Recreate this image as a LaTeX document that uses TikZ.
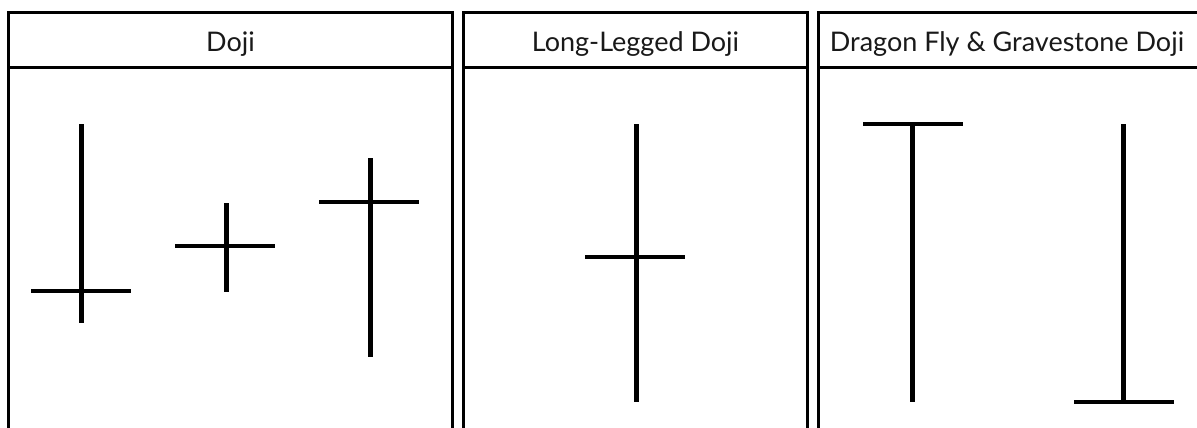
\documentclass[tikz,border=0pt]{standalone}
\usepackage{fontspec}
\setmainfont{Lato}
\begin{document}
\begin{tikzpicture}[x=1pt,y=-1pt,
  frame/.style={line width=3pt,line cap=rect},
  wick/.style={line width=5pt},
  bar/.style={line width=3.6pt},
  title/.style={font=\fontsize{27}{32}\selectfont,text=black!90,inner sep=0pt,anchor=base}]
\useasboundingbox (0,0) rectangle (1197,428);
\clip (0,0) rectangle (1197,428);
\fill[white] (0,0) rectangle (1197,428);
% panels
\draw[frame] (8.5,440) -- (8.5,12.5) -- (452.5,12.5) -- (452.5,440);
\draw[frame] (8.5,68) -- (452.5,68);
\draw[frame] (463.5,440) -- (463.5,12.5) -- (807.5,12.5) -- (807.5,440);
\draw[frame] (463.5,68) -- (807.5,68);
\draw[frame] (818.5,440) -- (818.5,12.5) -- (1210,12.5);
\draw[frame] (818.5,68) -- (1210,68);
% titles
\node[title] (t1) at (230.5,51.5) {Doji};
\node[title] (t2) at (635.5,51.5) {Long-Legged Doji};
\node[title] (t3) at (1007,51.5) {Dragon Fly \& Gravestone Doji};
% panel 1 candles
\draw[wick] (81,124) -- (81,323);
\draw[bar] (31,291) -- (131,291);
\draw[wick] (226,203) -- (226,292);
\draw[bar] (175,246) -- (275,246);
\draw[wick] (370,158) -- (370,357);
\draw[bar] (319,202) -- (419,202);
% panel 2
\draw[wick] (636,124) -- (636,402);
\draw[bar] (585,257) -- (685,257);
% panel 3
\draw[bar] (863,124) -- (963,124);
\draw[wick] (912,124) -- (912,402);
\draw[wick] (1123,124) -- (1123,402);
\draw[bar] (1074,402) -- (1174,402);
\end{tikzpicture}
\end{document}
